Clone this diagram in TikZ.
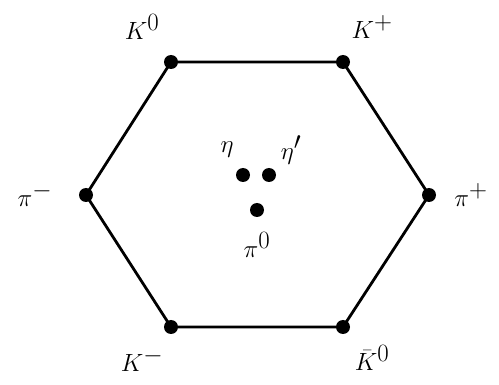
\documentclass[tikz,border=0pt]{standalone}
\begin{document}
\begin{tikzpicture}[x=1pt,y=-1pt,
  vtx/.style={circle,fill=black,inner sep=0pt,minimum size=14pt},
  lbl/.style={inner sep=0pt,font=\fontsize{33}{38}\selectfont},
  edge/.style={line width=2.8pt}]
\useasboundingbox (0,0) rectangle (499,385);
\node[vtx] (k0) at (171,62) {};
\node[vtx] (kp) at (343,62) {};
\node[vtx] (pip) at (429,195) {};
\node[vtx] (kb0) at (343,327) {};
\node[vtx] (km) at (171,327) {};
\node[vtx] (pim) at (86,195) {};
\node[vtx] (eta) at (243,175) {};
\node[vtx] (etap) at (269,175) {};
\node[vtx] (pi0) at (257,210) {};
\draw[edge] (k0.center) -- (kp.center) -- (pip.center) -- (kb0.center) -- (km.center) -- (pim.center) -- cycle;
\node[lbl] (lk0) at (142,27) {$K^0$};
\node[lbl] (lkp) at (372,27) {$K^+$};
\node[lbl] (lpim) at (35,195) {$\pi^-$};
\node[lbl] (lpip) at (471,195) {$\pi^+$};
\node[lbl] (lkm) at (142,360) {$K^-$};
\node[lbl] (lkb0) at (372,358) {$\bar{K}^0$};
\node[lbl] (leta) at (227,150) {$\eta$};
\node[lbl] (letap) at (291,150) {$\eta'$};
\node[lbl] (lpi0) at (257,245) {$\pi^0$};
\end{tikzpicture}
\end{document}
